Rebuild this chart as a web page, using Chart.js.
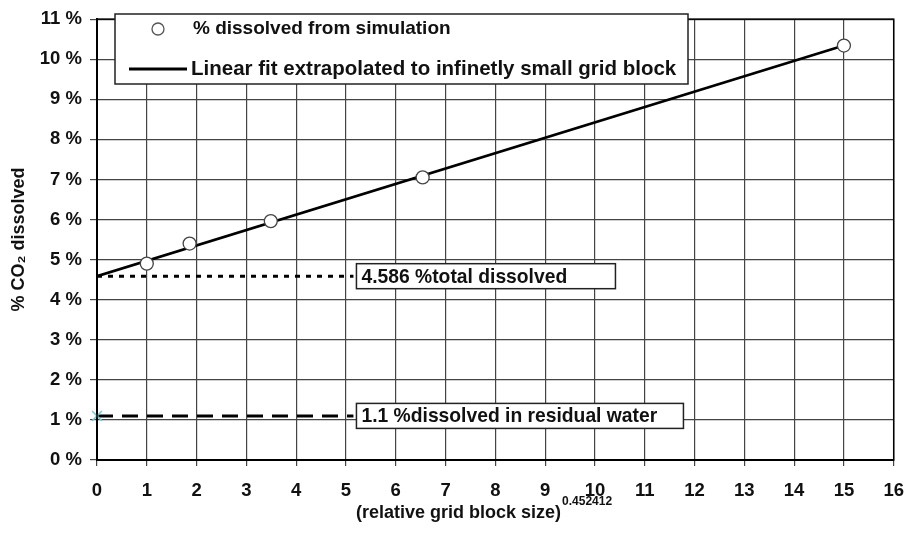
<!DOCTYPE html>
<html>
<head>
<meta charset="utf-8">
<script src="https://cdn.jsdelivr.net/npm/chart.js@4.4.1/dist/chart.umd.min.js"></script>
<style>
  html, body { margin: 0; padding: 0; background: #fff; }
  #wrap { width: 918px; height: 542px; }
</style>
</head>
<body>
<div id="wrap"><canvas id="c" width="918" height="542"></canvas></div>
<script>
// Simulated dissolution at each grid refinement
const gridSizeX = [1.0, 1.86, 3.49, 6.54, 15.0];
const dissolvedY = [4.90, 5.40, 5.96, 7.05, 10.34];

// Linear fit end points (extrapolated to zero grid block size)
const fitX = [0, 15];
const fitY = [4.586, 10.34];

// Reference levels
const totalDissolved = 4.586;
const residualDissolved = 1.1;
const totalLineX = [0, 5.15];
const residualLineX = [0, 5.15];

// Axis ticks
const xTicks = [0, 16, 1];
const yTicks = [0, 11, 1];

const seriesLabels = ['% dissolved from simulation', 'Linear fit extrapolated to infinetly small grid block'];
const noteLabels = ['4.586 %total dissolved', '1.1 %dissolved in residual water'];
const xTitle = '(relative grid block size)';
const xTitleExp = '0.452412';
const yTitle = '% CO\u2082 dissolved';

const FONT = "'Liberation Sans', Arial, sans-serif";

const pts = (xs, ys) => xs.map((x, i) => ({ x, y: ys[i] }));

// Legend box, note boxes and the x title with its exponent
const decorations = {
  id: 'decorations',
  afterDatasetsDraw(chart) {
    const ctx = chart.ctx;
    const a = chart.chartArea;
    // plot frame
    ctx.save();
    ctx.strokeStyle = '#000';
    ctx.lineWidth = 1.5;
    ctx.strokeRect(a.left, a.top, a.right - a.left, a.bottom - a.top);
    ctx.restore();
  },
  afterDraw(chart) {
    const ctx = chart.ctx;
    const xs = chart.scales.x, ys = chart.scales.y;
    ctx.save();

    // legend
    const lx = 115, ly = 14, lw = 573, lh = 70;
    ctx.fillStyle = '#fff';
    ctx.fillRect(lx, ly, lw, lh);
    ctx.strokeStyle = '#222';
    ctx.lineWidth = 1.5;
    ctx.strokeRect(lx, ly, lw, lh);

    ctx.beginPath();
    ctx.arc(158, 29, 6, 0, Math.PI * 2);
    ctx.fillStyle = '#fff';
    ctx.fill();
    ctx.strokeStyle = '#555';
    ctx.lineWidth = 1.3;
    ctx.stroke();

    ctx.beginPath();
    ctx.moveTo(129, 69);
    ctx.lineTo(187, 69);
    ctx.strokeStyle = '#000';
    ctx.lineWidth = 3;
    ctx.stroke();

    ctx.fillStyle = '#111';
    ctx.textBaseline = 'middle';
    ctx.textAlign = 'left';
    ctx.font = 'bold 19px ' + FONT;
    ctx.fillText(seriesLabels[0], 193, 29);
    ctx.font = 'bold 20.5px ' + FONT;
    ctx.fillText(seriesLabels[1], 191, 69);

    // note boxes next to the reference levels
    ctx.font = 'bold 19.3px ' + FONT;
    const notes = [
      { text: noteLabels[0], x: totalLineX[1], y: totalDissolved, w: 259 },
      { text: noteLabels[1], x: residualLineX[1], y: residualDissolved, w: 327 }
    ];
    notes.forEach(n => {
      const px = xs.getPixelForValue(n.x) + 3;
      const py = ys.getPixelForValue(n.y);
      const bh = 25;
      ctx.fillStyle = '#fff';
      ctx.fillRect(px, py - bh / 2, n.w, bh);
      ctx.strokeStyle = '#222';
      ctx.lineWidth = 1.5;
      ctx.strokeRect(px, py - bh / 2, n.w, bh);
      ctx.fillStyle = '#111';
      ctx.fillText(n.text, px + 5, py + 1);
    });

    // x-axis title with exponent
    ctx.fillStyle = '#111';
    ctx.font = 'bold 18px ' + FONT;
    const tw = ctx.measureText(xTitle).width;
    const start = 356;
    ctx.fillText(xTitle, start, 513);
    ctx.font = 'bold 12px ' + FONT;
    ctx.fillText(xTitleExp, start + tw + 1, 502);

    ctx.restore();
  }
};

new Chart(document.getElementById('c'), {
  type: 'scatter',
  data: {
    datasets: [
      {
        label: seriesLabels[1],
        data: pts(fitX, fitY),
        showLine: true,
        borderColor: '#000',
        borderWidth: 2.6,
        pointRadius: 0,
        order: 2
      },
      {
        label: 'total',
        data: pts(totalLineX, totalLineX.map(() => totalDissolved)),
        showLine: true,
        borderColor: '#000',
        borderWidth: 3,
        borderDash: [5, 6],
        pointRadius: 0,
        order: 3
      },
      {
        label: 'residual',
        data: pts(residualLineX, residualLineX.map(() => residualDissolved)),
        showLine: true,
        borderColor: '#000',
        borderWidth: 3,
        borderDash: [16, 9],
        pointRadius: 0,
        order: 3
      },
      {
        label: 'residual marker',
        data: [{ x: 0, y: residualDissolved }],
        pointStyle: 'crossRot',
        pointRadius: 7,
        borderColor: '#7cc8d2',
        borderWidth: 1.5,
        clip: false,
        order: 0
      },
      {
        label: seriesLabels[0],
        data: pts(gridSizeX, dissolvedY),
        pointStyle: 'circle',
        pointRadius: 6.5,
        pointBackgroundColor: '#fff',
        pointBorderColor: '#444',
        pointBorderWidth: 1.3,
        clip: false,
        order: 1
      }
    ]
  },
  plugins: [decorations],
  options: {
    responsive: false,
    animation: false,
    events: [],
    layout: { padding: { top: 15, right: 11, bottom: 0, left: 0 } },
    plugins: {
      legend: { display: false },
      tooltip: { enabled: false }
    },
    scales: {
      x: {
        type: 'linear',
        min: xTicks[0],
        max: xTicks[1],
        ticks: {
          stepSize: xTicks[2],
          color: '#111',
          font: { family: FONT, size: 18.5, weight: 'bold' },
          padding: 14,
          maxRotation: 0
        },
        grid: { color: '#444', lineWidth: 1.2, tickLength: 6 },
        border: { color: '#000', width: 2 },
        afterFit(s) { s.height = 82; }
      },
      y: {
        type: 'linear',
        min: yTicks[0],
        max: yTicks[1],
        ticks: {
          stepSize: yTicks[2],
          color: '#111',
          font: { family: FONT, size: 18.5, weight: 'bold' },
          padding: 8,
          callback: v => v + ' %'
        },
        grid: { color: '#444', lineWidth: 1.2, tickLength: 7 },
        border: { color: '#000', width: 2 },
        title: {
          display: true,
          text: yTitle,
          color: '#111',
          font: { family: FONT, size: 18, weight: 'bold' },
          padding: { top: 8, bottom: 0 }
        },
        afterFit(s) { s.width = 97; }
      }
    }
  }
});
</script>
</body>
</html>
